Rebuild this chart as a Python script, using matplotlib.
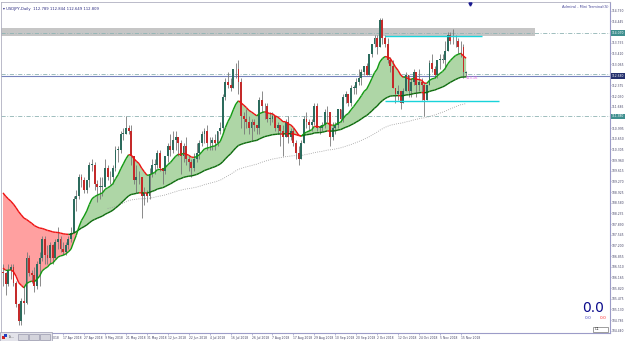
import numpy as np
import pandas as pd
import matplotlib
matplotlib.use("Agg")
import matplotlib.pyplot as plt
from matplotlib.patches import Rectangle
from matplotlib.collections import LineCollection
import matplotlib.transforms as mtransforms

# ---------------- data (USDJPY, Daily) ----------------
dates = pd.bdate_range("2018-03-15", "2018-11-19")

opens = [106.35, 106.30, 105.95, 106.40, 106.50, 106.00, 105.30, 104.75, 105.40, 105.35, 106.80, 106.30,
         106.25, 105.90, 106.60, 106.80, 107.40, 106.90, 106.80, 107.20, 106.80, 107.30, 107.40, 107.10,
         107.00, 107.20, 107.40, 107.60, 108.70, 108.80, 109.40, 109.30, 109.00,
         109.30, 109.80, 109.80, 109.20, 109.10, 109.10, 109.10, 109.70, 109.40, 109.40, 109.70, 110.30,
         110.30, 110.80, 110.80, 111.00, 110.90, 110.10, 109.30, 109.40, 109.40, 108.80, 108.90,
         108.80, 109.50, 109.80, 109.80, 110.20, 109.70, 109.60, 110.10, 110.40, 110.30, 110.60, 110.70,
         110.50, 110.10, 110.40, 110.00, 109.90, 109.70, 110.00, 110.20, 110.50,
         110.80, 110.90, 110.50, 110.50, 110.60, 110.50, 110.90, 111.00, 112.00, 112.50, 112.40, 112.30,
         112.90, 112.90, 112.50, 111.40, 111.30, 111.20, 111.00, 111.20, 111.10, 111.00,
         111.90, 111.70, 111.70, 111.30, 111.30, 111.40, 111.00, 111.10, 110.90, 110.70, 111.20, 110.70,
         110.90, 110.50, 110.20, 110.00, 110.50, 111.30, 111.20, 111.10, 111.20, 111.70, 111.00,
         111.00, 111.10, 111.50, 111.50, 110.70, 111.00, 111.10, 111.60, 111.30, 112.00, 112.10, 111.80,
         112.30, 112.30, 112.50, 112.60, 112.80, 113.00, 112.70, 113.40,
         113.70, 113.90, 113.60, 114.50, 113.90, 113.70, 113.20, 113.00, 112.30, 112.10, 112.20, 111.80,
         112.20, 112.70, 112.20, 112.50, 112.80, 112.40, 112.50, 112.40, 111.90, 112.40, 113.10,
         112.90, 112.70, 113.20, 113.20, 113.20, 113.50, 114.00, 113.80, 113.80, 113.80, 113.60, 113.60,
         112.79]

highs = [106.60, 106.35, 106.60, 106.60, 106.60, 106.05, 105.35, 105.50, 105.90, 107.00, 106.90, 106.40,
         106.50, 106.70, 107.00, 107.50, 107.50, 107.20, 107.30, 107.25, 107.40, 107.80, 107.50, 107.30,
         107.30, 107.50, 107.80, 108.80, 109.00, 109.50, 109.50, 109.40, 109.30,
         109.90, 110.00, 109.90, 109.30, 109.40, 109.40, 110.00, 109.80, 109.60, 109.80, 110.40, 110.40,
         110.90, 111.00, 111.40, 111.10, 111.10, 110.10, 109.80, 109.60, 109.40, 109.10, 109.00,
         109.70, 110.00, 110.00, 110.30, 110.30, 109.70, 110.10, 110.50, 110.80, 110.90, 110.90, 110.70,
         110.60, 110.50, 110.70, 110.10, 110.00, 110.20, 110.50, 110.60, 110.90,
         111.00, 111.10, 110.70, 110.70, 110.80, 110.90, 111.20, 112.10, 112.60, 112.80, 112.60, 112.90,
         113.10, 113.20, 112.60, 111.50, 111.60, 111.40, 111.30, 111.30, 111.10, 112.00,
         112.20, 111.80, 111.80, 111.50, 111.50, 111.40, 111.20, 111.10, 111.10, 111.30, 111.40, 111.00,
         111.00, 110.60, 110.40, 110.60, 111.40, 111.50, 111.30, 111.30, 111.80, 111.80, 111.10,
         111.20, 111.60, 111.70, 111.50, 111.20, 111.20, 111.60, 111.60, 112.10, 112.20, 112.10, 112.40,
         112.40, 112.60, 112.90, 112.90, 113.00, 113.10, 113.40, 113.70,
         114.00, 114.00, 114.55, 114.55, 114.00, 113.90, 113.30, 113.20, 112.30, 112.40, 112.20, 112.30,
         112.80, 112.70, 112.60, 112.90, 112.80, 112.90, 112.60, 112.50, 112.40, 113.20, 113.40,
         113.00, 113.20, 113.40, 113.40, 113.80, 114.10, 114.10, 114.20, 114.00, 113.90, 113.80, 113.70,
         112.84]

lows = [105.90, 105.60, 105.90, 106.10, 105.90, 105.20, 104.64, 104.63, 105.00, 105.30, 106.20, 106.00,
        105.70, 105.80, 105.90, 106.70, 106.60, 106.60, 106.60, 106.60, 106.80, 107.10, 107.00, 106.90,
        106.90, 107.10, 107.30, 107.60, 108.30, 108.70, 109.10, 108.90, 108.90,
        109.10, 109.60, 109.00, 108.60, 108.70, 108.80, 109.10, 109.30, 109.20, 109.20, 109.60, 109.90,
        110.20, 110.60, 110.80, 110.80, 109.80, 109.20, 108.90, 109.20, 108.10, 108.50, 108.60,
        108.70, 109.40, 109.50, 109.70, 109.60, 109.20, 109.50, 109.90, 110.10, 110.20, 110.30, 110.10,
        109.50, 109.90, 109.80, 109.60, 109.40, 109.60, 109.90, 110.00, 110.40,
        110.50, 110.30, 110.30, 110.30, 110.30, 110.40, 110.80, 110.90, 111.90, 112.30, 112.20, 112.30,
        112.60, 112.10, 111.00, 110.80, 111.00, 110.80, 110.60, 110.90, 110.80, 110.80,
        111.50, 111.30, 111.20, 111.10, 111.20, 110.90, 110.80, 110.40, 110.10, 110.70, 110.50, 110.60,
        110.40, 110.00, 109.80, 110.00, 110.50, 111.00, 110.90, 110.90, 111.10, 110.90, 110.80,
        110.90, 111.00, 111.20, 110.40, 110.60, 110.80, 111.00, 111.20, 111.20, 111.80, 111.70, 111.70,
        112.10, 112.10, 112.40, 112.40, 112.70, 112.70, 112.70, 113.30,
        113.60, 113.40, 113.60, 113.70, 113.60, 113.10, 112.80, 112.30, 111.80, 111.90, 111.60, 111.80,
        112.20, 112.00, 112.00, 112.40, 112.00, 112.20, 111.90, 111.37, 111.90, 112.40, 112.80,
        112.60, 112.60, 112.90, 113.10, 112.90, 113.50, 113.70, 113.70, 113.60, 113.40, 113.30, 112.60,
        112.65]

closes = [106.30, 105.95, 106.40, 106.50, 106.00, 105.30, 104.75, 105.40, 105.35, 106.80, 106.30, 106.25,
          105.90, 106.60, 106.80, 107.40, 106.90, 106.80, 107.20, 106.80, 107.30, 107.40, 107.10, 107.00,
          107.20, 107.40, 107.60, 108.70, 108.80, 109.40, 109.30, 109.00, 109.30,
          109.80, 109.80, 109.20, 109.10, 109.10, 109.10, 109.70, 109.40, 109.40, 109.70, 110.30, 110.30,
          110.80, 110.80, 111.00, 110.90, 110.10, 109.30, 109.40, 109.40, 108.80, 108.90, 108.80,
          109.50, 109.80, 109.80, 110.20, 109.70, 109.60, 110.10, 110.40, 110.30, 110.60, 110.70, 110.50,
          110.10, 110.40, 110.00, 109.90, 109.70, 110.00, 110.20, 110.50, 110.80,
          110.90, 110.50, 110.50, 110.60, 110.50, 110.90, 111.00, 112.00, 112.50, 112.40, 112.30, 112.90,
          112.90, 112.50, 111.40, 111.30, 111.20, 111.00, 111.20, 111.10, 111.00, 111.90,
          111.70, 111.70, 111.30, 111.30, 111.40, 111.00, 111.10, 110.90, 110.70, 111.20, 110.70, 110.90,
          110.50, 110.20, 110.00, 110.50, 111.30, 111.20, 111.10, 111.20, 111.70, 111.00, 111.00,
          111.10, 111.50, 111.50, 110.70, 111.00, 111.10, 111.60, 111.30, 112.00, 112.10, 111.80, 112.30,
          112.30, 112.50, 112.60, 112.80, 113.00, 112.70, 113.40, 113.70,
          113.90, 113.60, 114.50, 113.90, 113.70, 113.20, 113.00, 112.30, 112.10, 112.20, 111.80, 112.20,
          112.70, 112.20, 112.50, 112.80, 112.40, 112.50, 112.40, 111.90, 112.40, 113.10, 112.90,
          112.70, 113.20, 113.20, 113.20, 113.50, 114.00, 113.80, 113.80, 113.80, 113.60, 113.60, 112.80,
          112.81]

# indicator settings (two EMAs with coloured cloud + long dotted average)
fast_period, fast_seed = 13, 106.47
slow_period, slow_seed = 55, 108.90
long_period, long_seed = 120, 109.00
long_first_bar = 40

# time-axis labels
time_labels = ["5 Apr 2018", "17 Apr 2018", "27 Apr 2018", "9 May 2018", "21 May 2018", "31 May 2018",
               "12 Jun 2018", "22 Jun 2018", "4 Jul 2018", "16 Jul 2018", "26 Jul 2018", "7 Aug 2018",
               "17 Aug 2018", "29 Aug 2018", "10 Sep 2018", "20 Sep 2018", "2 Oct 2018", "12 Oct 2018",
               "24 Oct 2018", "5 Nov 2018", "15 Nov 2018"]

# price-axis labels (those hidden under the highlighted tags are left out)
price_ticks = [114.790, 114.445, 113.755, 113.410, 113.065, 112.375, 112.030,
               111.685, 110.995, 110.650, 110.305, 109.960, 109.615, 109.270, 108.925,
               108.580, 108.235, 107.890, 107.545, 107.200, 106.855, 106.510, 106.165, 105.820,
               105.475, 105.130, 104.785, 104.440]

# horizontal objects
zone_low, zone_high = 113.96, 114.24
bid_level = 112.68
dash_levels = [114.07, 112.74, 111.38]
tag_levels = [114.07, 112.68, 111.38]
cyan_upper = 113.97
cyan_lower = 111.87
title_text = "\u25be USDJPY,Daily  112.789 112.844 112.649 112.809"

# ---------------- figure ----------------
W, H = 625, 341
fig = plt.figure(figsize=(W / 100, H / 100), dpi=100)
fig.patch.set_facecolor("white")
ax = fig.add_axes([1 / W, 8 / H, 609 / W, 331 / H])
ax.set_facecolor("white")

o = np.array(opens); h = np.array(highs); l = np.array(lows); c = np.array(closes)
n = len(c)
x = np.arange(n)

def ema(vals, period, seed):
    a = 2.0 / (period + 1)
    out = [seed]
    for v in vals[1:]:
        out.append(out[-1] + a * (v - out[-1]))
    return np.array(out)

fast = ema(c, fast_period, fast_seed)
slow = ema(c, slow_period, slow_seed)
longma = ema(c, long_period, long_seed)

x_left, x_right = -0.76, 232.0
ax.set_xlim(x_left, x_right)
ax.set_ylim(104.37, 115.07)

# cloud
ax.fill_between(x, fast, slow, where=fast >= slow, interpolate=True, color="#aed6a6", lw=0, zorder=1)
ax.fill_between(x, fast, slow, where=fast < slow, interpolate=True, color="#ffa0a0", lw=0, zorder=1)

# zone + horizontal lines
ax.add_patch(Rectangle((x_left, zone_low), 203.4 - x_left, zone_high - zone_low,
                       facecolor="#c6c6c6", edgecolor="none", zorder=0.5))
for lv in dash_levels:
    ax.axhline(lv, color="#8fb3b3", lw=0.6, ls=(0, (5, 2, 1, 2)), zorder=0.8)
ax.axhline(bid_level, color="#7582bd", lw=0.8, zorder=0.9)
ax.hlines(cyan_upper, 146.0, 183.1, color="#19d3da", lw=1.0, zorder=5)
ax.hlines(cyan_lower, 146.0, 189.6, color="#19d3da", lw=1.0, zorder=5)

# long dotted average
ax.plot(x[long_first_bar:], longma[long_first_bar:], color="#9a9a9a", lw=0.6, ls=(0, (1, 1.6)), zorder=1.5)

# candles
up = c >= o
body_col = np.where(up, "#2c6b5d", "#c42a2a")
ax.vlines(x, l, h, color="#777777", lw=0.6, zorder=3)
body_h = np.maximum(np.abs(c - o), 0.02)
ax.bar(x, body_h, bottom=np.minimum(o, c), width=0.72, color=body_col, linewidth=0, zorder=4)

# slope-coloured MA lines
def slope_line(vals, up_col, dn_col, lw):
    pts = np.column_stack([x, vals])
    segs = np.stack([pts[:-1], pts[1:]], axis=1)
    cols = [up_col if vals[i + 1] >= vals[i] else dn_col for i in range(len(vals) - 1)]
    ax.add_collection(LineCollection(segs, colors=cols, linewidths=lw, zorder=6))

slope_line(slow, "#0b6a0b", "#ee1111", 1.0)
slope_line(fast, "#129a12", "#ee1111", 1.0)

ax.text(176.8, 112.60, "113.16", color="#e060e0", fontsize=2.6, va="center", ha="left", zorder=7)

# axes styling
for s in ["left", "top"]:
    ax.spines[s].set_color("#b0b0c0"); ax.spines[s].set_linewidth(0.6)
for s in ["right", "bottom"]:
    ax.spines[s].set_color("#9c9cc8"); ax.spines[s].set_linewidth(0.8)

ax.yaxis.tick_right()
ax.set_yticks(price_ticks)
ax.set_yticklabels([f"{v:.3f}" for v in price_ticks])
ax.tick_params(axis="y", length=1.0, width=0.5, color="#9c9cc8", labelsize=2.2, labelcolor="#444466", pad=0.5)

tick_pos = [dates.get_loc(pd.to_datetime(t, format="%d %b %Y")) for t in time_labels]
ax.set_xticks(tick_pos)
ax.set_xticklabels(time_labels, ha="left")
ax.tick_params(axis="x", length=1.5, width=0.5, color="#9c9cc8", labelsize=2.2, labelcolor="#444466", pad=0.6)

# highlighted price tags on the axis
blend = mtransforms.blended_transform_factory(ax.transAxes, ax.transData)
tag_colors = ["#3f8f8f", "#24306e", "#3f8f8f"]
for lv, col in zip(tag_levels, tag_colors):
    ax.text(1.003, lv, f"{lv:.3f}", transform=blend, fontsize=2.2, color="white", va="center", ha="left",
            bbox=dict(boxstyle="square,pad=0.2", facecolor=col, edgecolor="none"), zorder=10, clip_on=False)

# header texts
ax.text(0.003, 0.985, title_text, transform=ax.transAxes, fontsize=2.7, color="#2a2a80", va="top", ha="left")
ax.text(0.998, 0.99, "Admiral - Mini Terminal(S)", transform=ax.transAxes, fontsize=2.6,
        color="#4a4a9a", va="top", ha="right")
ax.plot([178.5], [115.02], marker="v", color="#1a1a90", ms=2.2, clip_on=False, zorder=10)

# mini-terminal readout (figure pixel coords)
def fx(px): return px / W
def fy(py): return 1 - py / H
fig.text(fx(593), fy(308), "0.0", fontsize=10, color="#0b0b8c", ha="center", va="center")
fig.text(fx(588), fy(318), "0.0", fontsize=3.2, color="#4646c0", ha="center", va="center")
fig.text(fx(603), fy(318), "0.0", fontsize=3.2, color="#ff3535", ha="center", va="center")
fig.patches.append(Rectangle((fx(593), fy(331.5)), 15 / W, 4.5 / H, transform=fig.transFigure,
                             facecolor="white", edgecolor="#777777", lw=0.5))
fig.text(fx(595), fy(329.3), "D1", fontsize=2.4, color="#333333", ha="left", va="center")

# bottom-left toolbar
fig.patches.append(Rectangle((0, 0), 52 / W, 9 / H, transform=fig.transFigure,
                             facecolor="#e3e3ea", edgecolor="#9a9ab0", lw=0.5, zorder=5))
fig.patches.append(Rectangle((2 / W, 2.5 / H), 3 / W, 3 / H, transform=fig.transFigure,
                             facecolor="#d02020", edgecolor="none", zorder=6))
fig.patches.append(Rectangle((4 / W, 4 / H), 3 / W, 3 / H, transform=fig.transFigure,
                             facecolor="#2040c0", edgecolor="none", zorder=6))
fig.text(fx(9), fy(336.5), "Li...", fontsize=2.4, color="#333333", ha="left", va="center", zorder=7)
for bx in [18, 29, 40]:
    fig.patches.append(Rectangle((bx / W, 1.5 / H), 10 / W, 6 / H, transform=fig.transFigure,
                                 facecolor="#d4d4dc", edgecolor="#8a8aa0", lw=0.4, zorder=6))

fig.savefig("out.png", dpi=100, facecolor="white")
